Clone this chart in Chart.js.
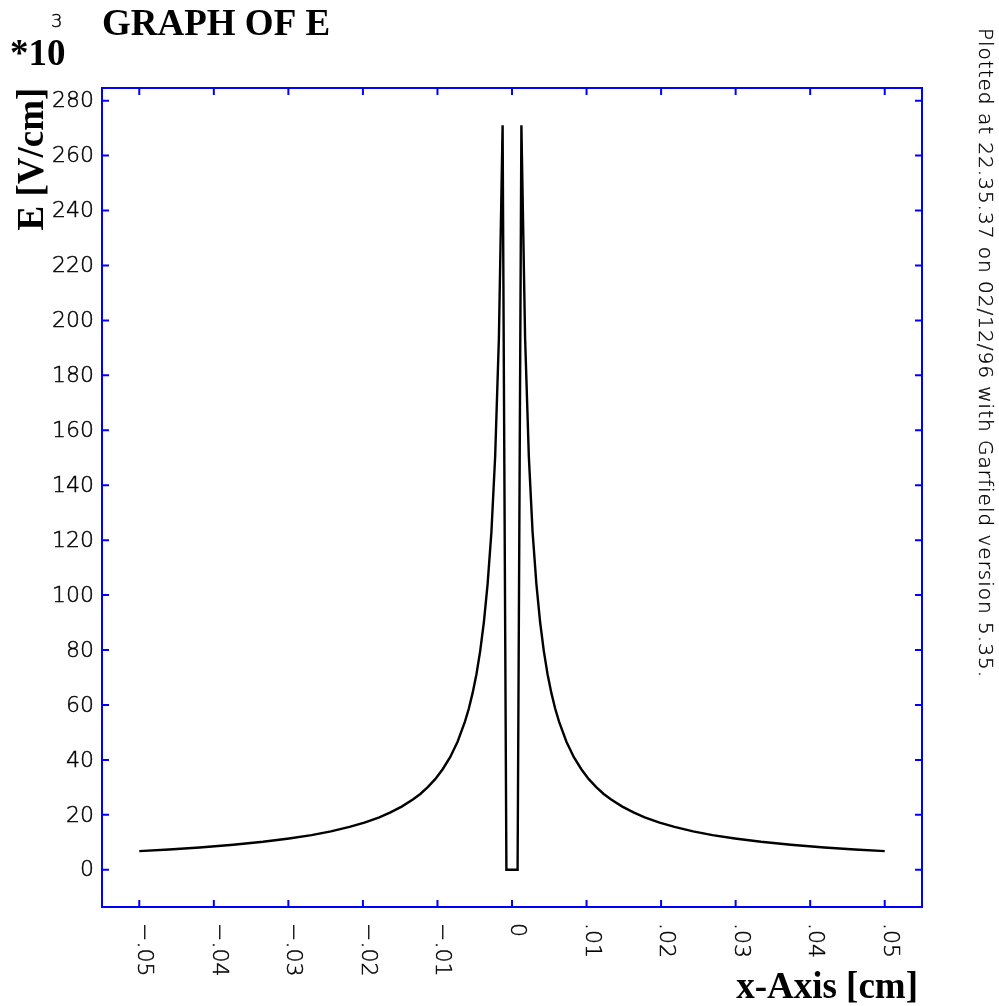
<!DOCTYPE html>
<html><head><meta charset="utf-8">
<script src="https://cdn.jsdelivr.net/npm/chart.js@4.4.1/dist/chart.umd.min.js"></script>
<style>html,body{margin:0;padding:0;background:#fff;overflow:hidden}canvas{display:block}</style>
</head><body>
<canvas id="c" width="999" height="1006"></canvas>
<script>
// x position [cm]
const xValues = [-0.05, -0.046, -0.0419, -0.0374, -0.0334, -0.0299, -0.0269, -0.0243, -0.0218, -0.0198,
  -0.0178, -0.0163, -0.0148, -0.0133, -0.0123, -0.0113, -0.0103, -0.0093, -0.0083, -0.0073,
  -0.0063, -0.00578, -0.00528, -0.00477, -0.00427, -0.00377, -0.00327, -0.00276, -0.00226, -0.00176,
  -0.00126, -0.00075, -0.00025, 0.00025, 0.00075,
  0.00126, 0.00176, 0.00226, 0.00276, 0.00327, 0.00377, 0.00427, 0.00477, 0.00528, 0.00578,
  0.0063, 0.0073, 0.0083, 0.0093, 0.0103, 0.0113, 0.0123, 0.0133, 0.0148, 0.0163,
  0.0178, 0.0198, 0.0218, 0.0243, 0.0269, 0.0299, 0.0334, 0.0374, 0.0419, 0.046, 0.05];
// E [kV/cm]
const eValues = [6.8, 7.4, 8.1, 9.1, 10.2, 11.4, 12.6, 14.0, 15.6, 17.2,
  19.1, 20.9, 23.0, 25.6, 27.6, 30.1, 33.0, 36.6, 41.0, 46.6,
  54.0, 58.8, 64.4, 71.2, 79.6, 90.2, 104.1, 123.0, 150.4, 193.3,
  271, 0, 0, 0, 0,
  271, 193.3, 150.4, 123.0, 104.1, 90.2, 79.6, 71.2, 64.4, 58.8,
  54.0, 46.6, 41.0, 36.6, 33.0, 30.1, 27.6, 25.6, 23.0, 20.9,
  19.1, 17.2, 15.6, 14.0, 12.6, 11.4, 10.2, 9.1, 8.1, 7.4, 6.8];

const xTickValues = [-0.05, -0.04, -0.03, -0.02, -0.01, 0, 0.01, 0.02, 0.03, 0.04, 0.05];
const xTickLabels = ['\u2212.05', '\u2212.04', '\u2212.03', '\u2212.02', '\u2212.01', '0', '.01', '.02', '.03', '.04', '.05'];
const yTickValues = [0, 20, 40, 60, 80, 100, 120, 140, 160, 180, 200, 220, 240, 260, 280];
const yTickLabels = ['0', '20', '40', '60', '80', '100', '120', '140', '160', '180', '200', '220', '240', '260', '280'];

const titleText = 'GRAPH OF E';
const scaleText = '*10';
const exponentText = '3';
const yAxisTitle = 'E [V/cm]';
const xAxisTitle = 'x-Axis [cm]';
const footerText = 'Plotted at 22.35.37 on 02/12/96 with Garfield version 5.35.';

const BOLD = "bold 37px 'Liberation Serif', 'DejaVu Serif', serif";
const LIGHT = (s) => `200 ${s}px 'DejaVu Sans', 'Liberation Sans', sans-serif`;

function thinText(ctx, t, x, y) {
  ctx.fillText(t, x, y);
  ctx.strokeText(t, x, y);
}

const decor = {
  id: 'decor',
  afterDatasetsDraw(chart) {
    const ctx = chart.ctx, a = chart.chartArea;
    const xs = chart.scales.x, ys = chart.scales.y;
    ctx.save();
    // frame
    ctx.strokeStyle = '#0000ff';
    ctx.lineWidth = 2;
    ctx.strokeRect(a.left, a.top, a.right - a.left, a.bottom - a.top);
    ctx.beginPath();
    xTickValues.forEach(v => {
      const px = xs.getPixelForValue(v);
      ctx.moveTo(px, a.bottom); ctx.lineTo(px, a.bottom - 7);
      ctx.moveTo(px, a.top); ctx.lineTo(px, a.top + 7);
    });
    yTickValues.forEach(v => {
      const py = ys.getPixelForValue(v);
      ctx.moveTo(a.left, py); ctx.lineTo(a.left + 7, py);
      ctx.moveTo(a.right, py); ctx.lineTo(a.right - 7, py);
    });
    ctx.stroke();

    // tick labels
    ctx.fillStyle = '#000';
    ctx.strokeStyle = '#000';
    ctx.lineWidth = 0.45;
    ctx.font = LIGHT(22);
    ctx.textAlign = 'right';
    ctx.textBaseline = 'middle';
    yTickValues.forEach((v, i) => {
      thinText(ctx, yTickLabels[i], a.left - 8, ys.getPixelForValue(v) + 1);
    });
    ctx.textAlign = 'left';
    ctx.textBaseline = 'alphabetic';
    xTickValues.forEach((v, i) => {
      const px = xs.getPixelForValue(v);
      ctx.save();
      ctx.translate(px - 1, a.bottom + 16);
      ctx.rotate(Math.PI / 2);
      thinText(ctx, xTickLabels[i], 0, 0);
      ctx.restore();
    });

    // titles
    ctx.font = BOLD;
    ctx.textAlign = 'left';
    ctx.fillText(titleText, 102, 35);
    ctx.fillText(scaleText, 10, 65);
    ctx.font = LIGHT(18);
    thinText(ctx, exponentText, 51, 27);
    ctx.font = BOLD;
    ctx.textAlign = 'right';
    ctx.fillText(xAxisTitle, 918, 998);
    ctx.save();
    ctx.translate(43, 159);
    ctx.rotate(-Math.PI / 2);
    ctx.textAlign = 'center';
    ctx.fillText(yAxisTitle, 0, 0);
    ctx.restore();

    // footer
    ctx.save();
    ctx.translate(979, 28);
    ctx.rotate(Math.PI / 2);
    ctx.font = LIGHT(20);
    ctx.letterSpacing = '1px';
    ctx.textAlign = 'left';
    ctx.lineWidth = 0.35;
    thinText(ctx, footerText, 0, 0);
    ctx.restore();
    ctx.restore();
  }
};

new Chart(document.getElementById('c'), {
  type: 'scatter',
  data: {
    datasets: [{
      data: xValues.map((x, i) => ({ x: x, y: eValues[i] })),
      showLine: true,
      borderColor: '#000',
      borderWidth: 2.4,
      pointRadius: 0,
      tension: 0,
      fill: false
    }]
  },
  options: {
    responsive: false,
    animation: false,
    devicePixelRatio: 1,
    layout: { padding: { left: 102, right: 77, top: 88, bottom: 99 } },
    plugins: { legend: { display: false }, tooltip: { enabled: false }, title: { display: false } },
    scales: {
      x: { type: 'linear', min: -0.055, max: 0.055, display: false },
      y: { type: 'linear', min: -13.55, max: 284.6, display: false }
    }
  },
  plugins: [decor]
});
</script>
</body></html>
